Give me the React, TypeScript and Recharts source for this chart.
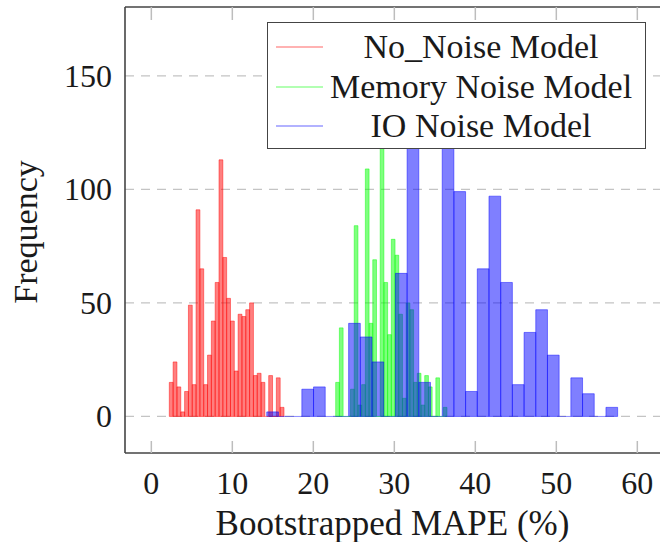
import React from 'react';
import {
  ComposedChart,
  XAxis,
  YAxis,
  CartesianGrid,
  ReferenceArea,
  ReferenceLine,
} from 'recharts';

// ---- data ----
const seriesNames = ['No_Noise Model', 'Memory Noise Model', 'IO Noise Model'];
const seriesColors = ['#ff0000', '#00ff00', '#0000ff'];

const noNoiseStart = 2.22;
const noNoiseBinWidth = 0.472;
const noNoiseCounts = [15, 24, 13, 2, 11, 49, 14, 91, 65, 14, 27, 42, 59, 113, 70, 52, 42, 20, 45, 44, 47, 50, 18, 19, 15, 0, 18, 0, 17, 4];

const memoryStart = 22.76;
const memoryBinWidth = 0.458;
const memoryCounts = [15, 39, 0, 0, 12, 84, 5, 14, 109, 41, 69, 0, 127, 59, 36, 78, 71, 45, 8, 50, 47, 15, 19, 5, 18, 13, 0, 17, 0, 4];

const ioStart = 14.25;
const ioBinWidth = 1.444;
const ioCounts = [2, 0, 0, 12, 13, 0, 0, 41, 35, 24, 0, 63, 144, 15, 0, 164, 99, 11, 65, 97, 59, 14, 37, 47, 27, 0, 17, 10, 0, 4];

const xTicks = [0, 10, 20, 30, 40, 50, 60];
const yTicks = [0, 50, 100, 150];
const xLabel = 'Bootstrapped MAPE (%)';
const yLabel = 'Frequency';

// ---- derived ----
type Bin = { x1: number; x2: number; count: number };
const makeBins = (start: number, width: number, counts: number[]): Bin[] =>
  counts.map((c, i) => ({ x1: start + i * width, x2: start + (i + 1) * width, count: c }));

const allSeries = [
  makeBins(noNoiseStart, noNoiseBinWidth, noNoiseCounts),
  makeBins(memoryStart, memoryBinWidth, memoryCounts),
  makeBins(ioStart, ioBinWidth, ioCounts),
];

const chartData = allSeries.flat().map((b) => ({ x: (b.x1 + b.x2) / 2, y: b.count }));

const FONT = "'Liberation Serif', 'Times New Roman', serif";
const W = 660;
const H = 542;
const X_DOMAIN: [number, number] = [-3.25, 62.8];
const Y_DOMAIN: [number, number] = [-16.1, 180.3];

const BottomTick = (props: any) => {
  const { x, y, payload } = props;
  return (
    <g>
      <line x1={x} x2={x} y1={y} y2={y - 12} stroke="#bdbdbd" strokeWidth={1.5} />
      <text x={x} y={y + 41} textAnchor="middle" fontFamily={FONT} fontSize={32} fill="#1a1a1a">
        {payload.value}
      </text>
    </g>
  );
};

const TopTick = (props: any) => {
  const { x, y } = props;
  return <line x1={x} x2={x} y1={y} y2={y + 13} stroke="#bdbdbd" strokeWidth={1.5} />;
};

const LeftTick = (props: any) => {
  const { x, y, payload } = props;
  return (
    <text x={x - 13} y={y + 11} textAnchor="end" fontFamily={FONT} fontSize={32} fill="#1a1a1a">
      {payload.value}
    </text>
  );
};

export default function App() {
  return (
    <div style={{ position: 'absolute', left: 0, top: 0, width: W, height: H, background: '#fff' }}>
      <ComposedChart
        width={W}
        height={H}
        data={chartData}
        margin={{ top: 6, right: 0, bottom: 0, left: 0 }}
      >
        <CartesianGrid
          horizontal
          vertical={false}
          horizontalValues={yTicks}
          yAxisId="left"
          xAxisId="bottom"
          stroke="#c4c4c4"
          strokeWidth={1.3}
          strokeDasharray="9 7"
        />
        <XAxis
          xAxisId="bottom"
          dataKey="x"
          type="number"
          domain={X_DOMAIN}
          allowDataOverflow
          ticks={xTicks}
          interval={0}
          height={89}
          tickLine={false}
          tickSize={0}
          tickMargin={0}
          tick={<BottomTick />}
          axisLine={{ stroke: '#444', strokeWidth: 1.6 }}
          label={{
            content: (p: any) => {
              const vb = p.viewBox || { x: 125, width: 535 };
              return (
                <text
                  x={vb.x + vb.width / 2}
                  y={535}
                  textAnchor="middle"
                  fontFamily={FONT}
                  fontSize={35}
                  fill="#1a1a1a"
                >
                  {xLabel}
                </text>
              );
            },
          }}
        />
        <XAxis
          xAxisId="top"
          dataKey="x"
          type="number"
          orientation="top"
          domain={X_DOMAIN}
          allowDataOverflow
          ticks={xTicks}
          interval={0}
          height={1}
          tickLine={false}
          tickSize={0}
          tickMargin={0}
          tick={<TopTick />}
          axisLine={{ stroke: '#444', strokeWidth: 1.6 }}
        />
        <YAxis
          yAxisId="left"
          dataKey="y"
          type="number"
          domain={Y_DOMAIN}
          allowDataOverflow
          ticks={yTicks}
          interval={0}
          width={125}
          tickLine={false}
          tickSize={0}
          tickMargin={0}
          tick={<LeftTick />}
          axisLine={{ stroke: '#444', strokeWidth: 1.6 }}
          label={{
            content: () => (
              <text
                x={37}
                y={232}
                transform="rotate(-90 37 232)"
                textAnchor="middle"
                fontFamily={FONT}
                fontSize={34}
                fill="#1a1a1a"
              >
                {yLabel}
              </text>
            ),
          }}
        />
        {allSeries.map((bins, si) =>
          bins.map((b, bi) =>
            b.count > 0 ? (
              <ReferenceArea
                key={`a-${si}-${bi}`}
                xAxisId="bottom"
                yAxisId="left"
                x1={b.x1}
                x2={b.x2}
                y1={0}
                y2={b.count}
                fill={seriesColors[si]}
                fillOpacity={0.5}
                stroke={seriesColors[si]}
                strokeOpacity={0.45}
                strokeWidth={1}
                ifOverflow="visible"
              />
            ) : (
              <ReferenceLine
                key={`l-${si}-${bi}`}
                xAxisId="bottom"
                yAxisId="left"
                segment={[
                  { x: b.x1, y: 0 },
                  { x: b.x2, y: 0 },
                ]}
                stroke={seriesColors[si]}
                strokeOpacity={0.45}
                strokeWidth={1}
                ifOverflow="visible"
              />
            )
          )
        )}
      </ComposedChart>
      <div
        style={{
          position: 'absolute',
          left: 267,
          top: 22,
          width: 379,
          height: 127,
          boxSizing: 'border-box',
          border: '1.6px solid #444',
          background: '#fff',
          fontFamily: FONT,
        }}
      >
        {seriesNames.map((name, i) => (
          <div
            key={name}
            style={{ position: 'absolute', left: 0, top: 4 + i * 39.5, width: '100%', height: 40 }}
          >
            <div
              style={{
                position: 'absolute',
                left: 8,
                top: 19,
                width: 47,
                height: 2,
                background: seriesColors[i],
                opacity: 0.3,
              }}
            />
            <div
              style={{
                position: 'absolute',
                left: 56,
                width: 314,
                top: 0,
                textAlign: 'center',
                fontSize: 34,
                lineHeight: '40px',
                color: '#1a1a1a',
                whiteSpace: 'nowrap',
              }}
            >
              {name}
            </div>
          </div>
        ))}
      </div>
    </div>
  );
}
